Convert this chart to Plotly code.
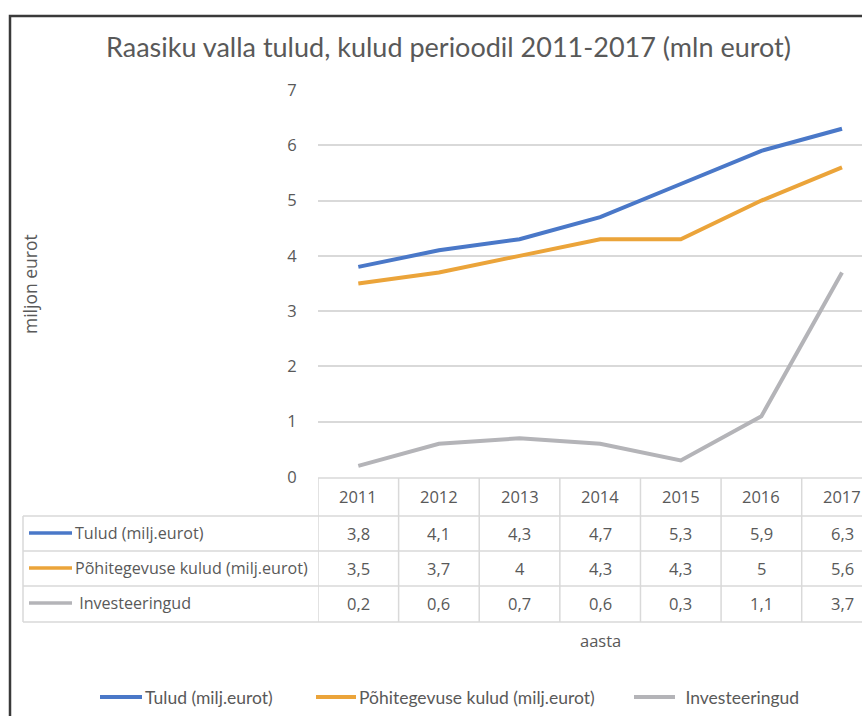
import plotly.graph_objects as go

years = ["2011", "2012", "2013", "2014", "2015", "2016", "2017"]
tulud = [3.8, 4.1, 4.3, 4.7, 5.3, 5.9, 6.3]
pohikulud = [3.5, 3.7, 4.0, 4.3, 4.3, 5.0, 5.6]
investeeringud = [0.2, 0.6, 0.7, 0.6, 0.3, 1.1, 3.7]

series_names = ["Tulud (milj.eurot)", "Põhitegevuse kulud (milj.eurot)", " Investeeringud"]
series_vals = [tulud, pohikulud, investeeringud]
colors = ["#4A78C8", "#EBA43A", "#B4B4B8"]

W, H = 862, 716
def px(x):
    return x / W
def py(y):
    return 1 - y / H

FONT = "Open Sans"
FONT2 = "Lato"
TXT = "#595959"
GRID = "#D9D9D9"

fig = go.Figure()
for name, vals, c in zip(series_names, series_vals, colors):
    fig.add_trace(go.Scatter(x=years, y=vals, name=name.strip(), mode="lines",
                             line=dict(color=c, width=4), showlegend=False))

shapes = []
annotations = []

def ann(x, y, text, size, family=FONT, xanchor="center", xref="paper", angle=0):
    annotations.append(dict(x=x, y=y, xref=xref, yref="paper", text=text,
                            xanchor=xanchor, yanchor="middle", showarrow=False,
                            textangle=angle,
                            font=dict(family=family, size=size, color=TXT)))

# chart border (cut off at right/bottom)
shapes.append(dict(type="rect", xref="paper", yref="paper",
                   x0=px(10), x1=px(900), y0=py(16), y1=py(760),
                   line=dict(color="#3A3A3A", width=2.5), fillcolor="rgba(0,0,0,0)", layer="below"))

row_y = [516, 551, 586, 622]
shapes.append(dict(type="line", xref="paper", yref="paper", x0=px(318), x1=1.05,
                   y0=py(478), y1=py(478), line=dict(color=GRID, width=1.5)))
for ry in row_y:
    shapes.append(dict(type="line", xref="paper", yref="paper", x0=px(23), x1=1.05,
                       y0=py(ry), y1=py(ry), line=dict(color=GRID, width=1.5)))
shapes.append(dict(type="line", xref="paper", yref="paper", x0=px(23), x1=px(23),
                   y0=py(516), y1=py(622), line=dict(color=GRID, width=1.5)))
for i in range(len(years)):
    xb = i - 0.5
    shapes.append(dict(type="line", xref="x", yref="paper", x0=xb, x1=xb,
                       y0=py(478), y1=py(622), line=dict(color=GRID, width=1.5)))

for i, yr in enumerate(years):
    ann(i, py(497), yr, 16.5, xref="x")

def fmt(v):
    return f"{v:g}".replace(".", ",")

text_y = [533, 568, 603]
for r, (name, vals, c) in enumerate(zip(series_names, series_vals, colors)):
    ty = text_y[r]
    shapes.append(dict(type="line", xref="paper", yref="paper", x0=px(29), x1=px(72),
                       y0=py(ty), y1=py(ty), line=dict(color=c, width=3.5)))
    ann(px(73), py(ty), name, 16.1, xanchor="left")
    for i, v in enumerate(vals):
        ann(i, py(ty), fmt(v), 16.5, xref="x")

# manual bottom legend
leg_items = [(100, 142, 143), (316, 356, 357), (634, 675, 679)]
for (l0, l1, t0), name, c in zip(leg_items, series_names, colors):
    shapes.append(dict(type="line", xref="paper", yref="paper", x0=px(l0), x1=px(l1),
                       y0=py(697), y1=py(697), line=dict(color=c, width=4)))
    ann(px(t0), py(697), name, 17.5, family=FONT2, xanchor="left")

ann(px(600), py(640), "aasta", 16.5)
ann(px(30), py(284), "miljon eurot", 17.5, angle=-90)
ann(px(448), py(46), "Raasiku valla tulud, kulud perioodil 2011-2017 (mln eurot)", 27, family=FONT2)

fig.update_layout(
    width=W, height=H,
    margin=dict(l=0, r=0, t=0, b=0, pad=0, autoexpand=False),
    paper_bgcolor="white", plot_bgcolor="white",
    xaxis=dict(domain=[px(318), 1], type="category", range=[-0.5, 6.248],
               showticklabels=False, showgrid=False, zeroline=False, showline=False,
               ticks="", automargin=False),
    yaxis=dict(domain=[py(477), py(90)], range=[0, 7], dtick=1, showgrid=True,
               gridcolor=GRID, gridwidth=1.5, zeroline=False, showline=False,
               ticks="outside", ticklen=17, tickcolor="rgba(0,0,0,0)", automargin=False,
               tickfont=dict(family=FONT, size=16.5, color=TXT)),
    showlegend=False,
    shapes=shapes,
    annotations=annotations,
)

fig.write_html("out.html", config={"displayModeBar": False},
               post_script="document.body.style.margin='0';document.body.style.overflow='hidden';")
